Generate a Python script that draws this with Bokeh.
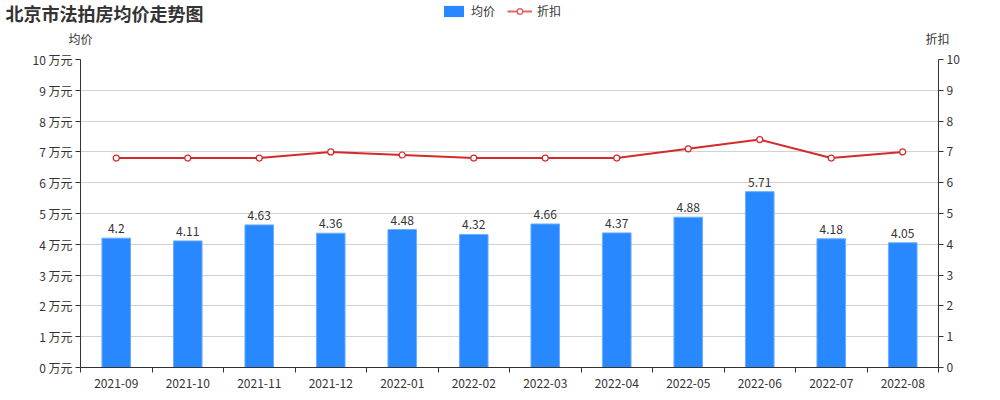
from bokeh.plotting import figure
from bokeh.layouts import column
from bokeh.models import (Range1d, LinearAxis, FixedTicker, PrintfTickFormatter, Label,
                          Legend, LegendItem, ColumnDataSource)
from bokeh.embed import file_html
from bokeh.resources import INLINE

months = ["2021-09", "2021-10", "2021-11", "2021-12", "2022-01", "2022-02",
          "2022-03", "2022-04", "2022-05", "2022-06", "2022-07", "2022-08"]
avg_price = [4.2, 4.11, 4.63, 4.36, 4.48, 4.32, 4.66, 4.37, 4.88, 5.71, 4.18, 4.05]
discount = [6.8, 6.8, 6.8, 7.0, 6.9, 6.8, 6.8, 6.8, 7.1, 7.4, 6.8, 7.0]
y_ticks = list(range(0, 11))

FONT = "Noto Sans CJK SC"
BAR = "#2888FF"
RED = "#D42A2A"
TXT = "#333333"

xpos = [i + 0.5 for i in range(len(months))]
src = ColumnDataSource(dict(x=xpos, price=avg_price, disc=discount,
                            lbl=[str(v) for v in avg_price]))

# ---------- header (title, legend, axis names) ----------
HDR_H = 49
hdr = figure(frame_width=1000, frame_height=HDR_H, x_range=Range1d(0, 1000), y_range=Range1d(0, HDR_H),
             output_backend="svg", toolbar_location=None, x_axis_location=None, y_axis_location=None,
             min_border=0, min_border_left=0, min_border_right=0, min_border_top=0, min_border_bottom=0)
hdr.frame_align = False
hdr.outline_line_color = None
hdr.xgrid.visible = False
hdr.ygrid.visible = False

# legend sample renderers (kept outside the visible range)
lg_bar = hdr.vbar(x=[-500], top=[-500], bottom=[-600], width=1, fill_color=BAR, line_color=None,
                  border_radius=4)
lg_line = hdr.line(x=[-500, -400], y=[-500, -500], line_color="#E06666", line_width=2)
lg_pt = hdr.scatter(x=[-500], y=[-500], size=12, fill_color="white", line_color="#E06666",
                    line_width=1.5)

legend = Legend(items=[LegendItem(label="均价", renderers=[lg_bar]),
                       LegendItem(label="折扣", renderers=[lg_line, lg_pt])],
                orientation="horizontal", location=(441, HDR_H - 19),
                glyph_width=25, glyph_height=14, label_height=14, label_standoff=5, spacing=12,
                label_text_font=FONT, label_text_font_size="12px", label_text_color=TXT,
                border_line_color=None, background_fill_alpha=0, padding=0, margin=0)
hdr.add_layout(legend, "center")

hdr.add_layout(Label(x=5, y=HDR_H - 12, text="北京市法拍房均价走势图",
                     text_font=FONT, text_font_size="18px", text_font_style="bold",
                     text_color=TXT, text_baseline="middle"))
hdr.add_layout(Label(x=80, y=HDR_H - 38, text="均价",
                     text_font=FONT, text_font_size="12px", text_color=TXT,
                     text_align="center", text_baseline="middle"))
hdr.add_layout(Label(x=937, y=HDR_H - 38, text="折扣",
                     text_font=FONT, text_font_size="12px", text_color=TXT,
                     text_align="center", text_baseline="middle"))

# ---------- main chart ----------
p = figure(frame_width=858, frame_height=308, x_range=Range1d(0, len(months)), y_range=Range1d(0, 10),
           output_backend="svg", toolbar_location=None,
           min_border_left=80, min_border_right=62, min_border_top=10, min_border_bottom=33)
p.frame_align = False
p.extra_y_ranges = {"disc": Range1d(0, 10)}
p.outline_line_color = None

xa = p.xaxis[0]
xa.ticker = FixedTicker(ticks=xpos, minor_ticks=list(range(len(months) + 1)))
xa.major_label_overrides = {x: m for x, m in zip(xpos, months)}
xa.major_tick_in = 0
xa.major_tick_out = 0
xa.minor_tick_in = 0
xa.minor_tick_out = 5
xa.minor_tick_line_color = TXT
xa.axis_line_color = TXT
xa.major_label_standoff = 6
xa.major_label_text_font = FONT
xa.major_label_text_font_size = "12px"
xa.major_label_text_color = TXT

ya = p.yaxis[0]
ya.ticker = FixedTicker(ticks=y_ticks)
ya.formatter = PrintfTickFormatter(format="%d 万元")
ya.major_tick_in = 0
ya.major_tick_out = 5
ya.minor_tick_out = 0
ya.minor_tick_in = 0
ya.axis_line_color = TXT
ya.major_tick_line_color = TXT
ya.major_label_standoff = 3
ya.major_label_text_font = FONT
ya.major_label_text_font_size = "12px"
ya.major_label_text_color = TXT

ra = LinearAxis(y_range_name="disc", ticker=FixedTicker(ticks=y_ticks))
ra.major_tick_in = 0
ra.major_tick_out = 5
ra.minor_tick_out = 0
ra.minor_tick_in = 0
ra.axis_line_color = TXT
ra.major_tick_line_color = TXT
ra.major_label_standoff = 3
ra.major_label_text_font = FONT
ra.major_label_text_font_size = "12px"
ra.major_label_text_color = TXT
p.add_layout(ra, "right")

p.xgrid.visible = False
p.ygrid.ticker = FixedTicker(ticks=y_ticks)
p.ygrid.grid_line_color = "#d2d2d2"

p.vbar(x="x", top="price", width=0.4, source=src, fill_color=BAR,
       line_color="#6FAEFF", line_width=1)
p.text(x="x", y="price", text="lbl", source=src, y_offset=-5, text_align="center",
       text_baseline="bottom", text_font_size="12px", text_color=TXT,
       text_font={"value": FONT})

p.line(x="x", y="disc", source=src, y_range_name="disc", line_color=RED, line_width=2)
p.scatter(x="x", y="disc", source=src, y_range_name="disc", size=6,
          fill_color="white", line_color=RED, line_width=1.2)

layout = column(hdr, p, spacing=0)
open("out.html", "w").write(file_html(layout, INLINE))
